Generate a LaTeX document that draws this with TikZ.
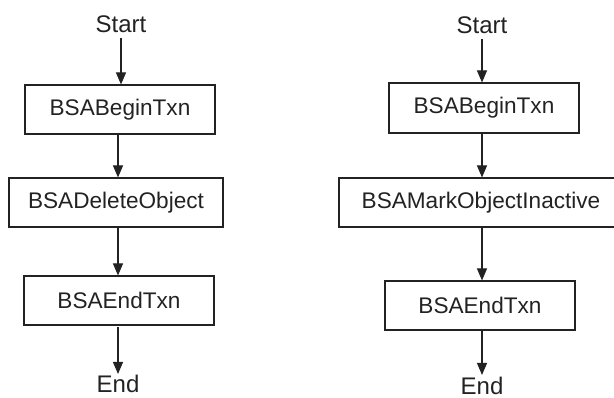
\documentclass[tikz,border=0pt]{standalone}
\usepackage{fontspec}
\setmainfont{Liberation Sans}
\usetikzlibrary{arrows.meta}
\definecolor{ink}{HTML}{222222}
\tikzset{
  stepbox/.style={draw=ink, line width=1.1pt, text=ink, inner sep=0pt,
    font=\fontsize{22.6}{24}\selectfont},
  termtext/.style={text=ink, inner sep=0pt, anchor=base,
    font=\fontsize{24}{26}\selectfont},
  flow/.style={draw=ink, line width=1.1pt, -{Triangle[width=10pt,length=12pt]}},
}
\begin{document}
\begin{tikzpicture}[x=1pt,y=-1pt]
\useasboundingbox (0,0) rectangle (614,398);
\begin{scope}
\clip (0,0) rectangle (614,398);
% left column
\node[termtext] (sL) at (121,33) {Start};
\node[stepbox, minimum width=190pt, minimum height=49pt] (b1L) at (120,109.5) {BSABeginTxn};
\node[stepbox, minimum width=214pt, minimum height=49pt] (b2L) at (116,202.5) {BSADeleteObject};
\node[stepbox, minimum width=190pt, minimum height=49pt] (b3L) at (119,300.5) {BSAEndTxn};
\node[termtext] (eL) at (118,393) {End};
\coordinate (aL1) at (121,38);
\coordinate (aL2) at (118,134);
\coordinate (aL3) at (118,228);
\coordinate (aL4) at (118,327);
\coordinate (tL4) at (118,374);
\draw[flow] (aL1) -- (aL1 |- b1L.north);
\draw[flow] (aL2) -- (aL2 |- b2L.north);
\draw[flow] (aL3) -- (aL3 |- b3L.north);
\draw[flow] (aL4) -- (tL4);
% right column
\node[termtext] (sR) at (482,34) {Start};
\node[stepbox, minimum width=190pt, minimum height=50pt] (b1R) at (484,108) {BSABeginTxn};
\node[stepbox, minimum width=284pt, minimum height=49pt] (b2R) at (481,202.5) {BSAMarkObjectInactive};
\node[stepbox, minimum width=190pt, minimum height=49pt] (b3R) at (480,305.5) {BSAEndTxn};
\node[termtext] (eR) at (482,394.5) {End};
\coordinate (aR1) at (482,39);
\coordinate (aR2) at (482,133);
\coordinate (aR3) at (482,228);
\coordinate (aR4) at (482,331);
\coordinate (tR4) at (482,375);
\draw[flow] (aR1) -- (aR1 |- b1R.north);
\draw[flow] (aR2) -- (aR2 |- b2R.north);
\draw[flow] (aR3) -- (aR3 |- b3R.north);
\draw[flow] (aR4) -- (tR4);
\end{scope}
\end{tikzpicture}
\end{document}
